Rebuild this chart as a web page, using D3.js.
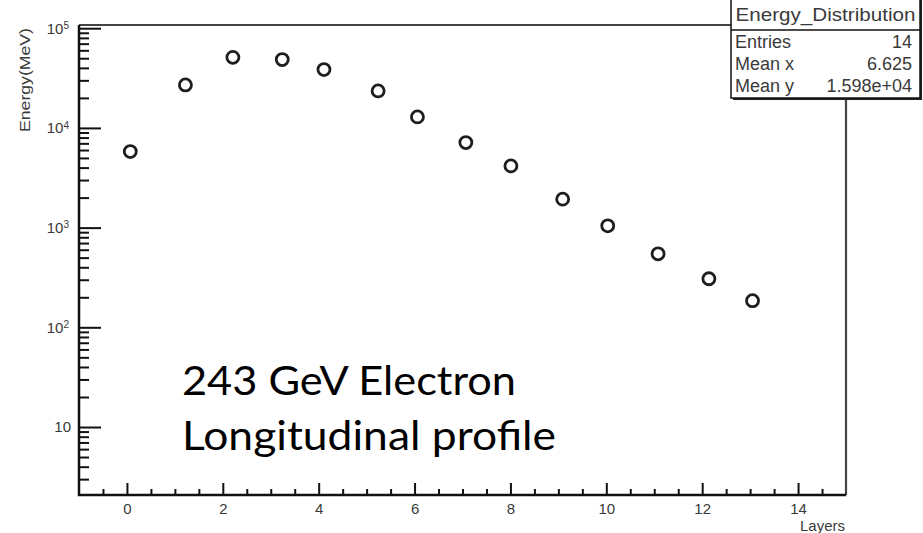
<!DOCTYPE html>
<html>
<head>
<meta charset="utf-8">
<script src="https://cdn.jsdelivr.net/npm/d3@7"></script>
<style>
  html, body { margin: 0; padding: 0; background: #fff; }
  svg { display: block; }
</style>
</head>
<body>
<div id="chartContainer"></div>
<script>
// layer position (x) and deposited energy in MeV (y)
var layers = [0.07, 1.22, 2.21, 3.24, 4.11, 5.24, 6.06, 7.07, 8.01, 9.09, 10.03, 11.08, 12.14, 13.05];
var energy = [5790, 27000, 51000, 48500, 38500, 23500, 12900, 7130, 4160, 1930, 1042, 546, 307, 185];

var xTickValues = [0, 2, 4, 6, 8, 10, 12, 14];
var yTickExponents = [1, 2, 3, 4, 5];

var statsTitle = "Energy_Distribution";
var statsLabels = ["Entries", "Mean x", "Mean y"];
var statsValues = ["14", "6.625", "1.598e+04"];

var noteLines = ["243 GeV Electron", "Longitudinal profile"];

document.addEventListener("DOMContentLoaded", function() {
  var width = 923, height = 533;
  var left = 79, right = 846, top = 25, bottom = 495;

  var svg = d3.select("#chartContainer")
    .append("svg")
    .attr("width", width)
    .attr("height", height);

  var xScale = d3.scaleLinear().domain([-1, 15]).range([left, right]);
  var yScale = d3.scaleLog().domain([2.08, 1.077e5]).range([bottom, top]);

  var labelColor = "#3a3a3a";
  var rootFont = "'Liberation Sans', Arial, sans-serif";

  // frame (top and right sides)
  svg.append("path")
    .attr("d", "M" + left + "," + top + "H" + right + "V" + bottom)
    .attr("fill", "none")
    .attr("stroke", "#444")
    .attr("stroke-width", 2.2);

  // x axis: major + minor ticks pointing up
  var xMinor = d3.range(-0.5, 15, 0.5).filter(function(v) { return v % 2 !== 0; });
  var xMinorAxis = d3.axisBottom(xScale).tickValues(xMinor).tickSize(-6).tickFormat("");
  var xAxis = d3.axisBottom(xScale).tickValues(xTickValues).tickSize(-12).tickPadding(8)
    .tickFormat(d3.format("d"));

  var gxm = svg.append("g").attr("transform", "translate(0," + bottom + ")").call(xMinorAxis);
  var gx = svg.append("g").attr("transform", "translate(0," + bottom + ")").call(xAxis);
  [gxm, gx].forEach(function(g) {
    g.select(".domain").remove();
    g.selectAll(".tick line").attr("stroke", "#111").attr("stroke-width", 2);
  });
  gx.selectAll(".tick text")
    .attr("fill", labelColor)
    .style("font-family", rootFont)
    .style("font-size", "15px");

  // y axis: log ticks pointing right
  var yMinor = [];
  for (var e = 0; e <= 4; e++) {
    for (var m = 2; m <= 9; m++) {
      var v = m * Math.pow(10, e);
      if (v > 2.08 && v < 1.077e5) yMinor.push(v);
    }
  }
  var yMinorAxis = d3.axisLeft(yScale).tickValues(yMinor).tickSize(-10).tickFormat("");
  var yAxis = d3.axisLeft(yScale)
    .tickValues(yTickExponents.map(function(p) { return Math.pow(10, p); }))
    .tickSize(-22).tickPadding(10).tickFormat("");

  var gym = svg.append("g").attr("transform", "translate(" + left + ",0)").call(yMinorAxis);
  var gy = svg.append("g").attr("transform", "translate(" + left + ",0)").call(yAxis);
  [gym, gy].forEach(function(g) {
    g.select(".domain").remove();
    g.selectAll(".tick line").attr("stroke", "#111").attr("stroke-width", 2);
  });
  gy.selectAll(".tick text").each(function(d) {
    var p = Math.round(Math.log10(d));
    var t = d3.select(this)
      .attr("fill", labelColor)
      .style("font-family", rootFont)
      .style("font-size", "15px");
    if (p === 1) {
      t.text("10").attr("x", -8);
    } else {
      t.append("tspan").text("10");
      t.append("tspan").text(p).attr("dy", "-0.45em").style("font-size", "10px");
    }
  });

  // axis lines on left and bottom
  svg.append("path")
    .attr("d", "M" + left + "," + top + "V" + bottom + "H" + right)
    .attr("fill", "none")
    .attr("stroke", "#111")
    .attr("stroke-width", 2.5);

  // axis titles
  svg.append("text")
    .attr("transform", "translate(30," + (top + 3) + ") rotate(-90)")
    .attr("text-anchor", "end")
    .attr("fill", labelColor)
    .attr("textLength", 104)
    .attr("lengthAdjust", "spacingAndGlyphs")
    .style("font-family", rootFont)
    .style("font-size", "15px")
    .text("Energy(MeV)");

  svg.append("text")
    .attr("x", 845)
    .attr("y", 531)
    .attr("text-anchor", "end")
    .attr("fill", labelColor)
    .style("font-family", rootFont)
    .style("font-size", "15px")
    .text("Layers");

  // markers
  var pts = layers.map(function(x, i) { return { x: x, y: energy[i] }; });
  svg.selectAll("circle.pt")
    .data(pts)
    .enter().append("circle")
    .attr("class", "pt")
    .attr("cx", function(d) { return xScale(d.x); })
    .attr("cy", function(d) { return yScale(d.y); })
    .attr("r", 6)
    .attr("fill", "none")
    .attr("stroke", "#1e1e1e")
    .attr("stroke-width", 2.8);

  // stats box
  var box = { x: 731, y: -4, w: 189, h: 102 };
  svg.append("rect")
    .attr("x", box.x + 2).attr("y", box.y + 2)
    .attr("width", box.w).attr("height", box.h)
    .attr("fill", "#222");
  svg.append("rect")
    .attr("x", box.x).attr("y", box.y)
    .attr("width", box.w).attr("height", box.h)
    .attr("fill", "#fff")
    .attr("stroke", "#111")
    .attr("stroke-width", 1.5);
  svg.append("line")
    .attr("x1", box.x).attr("x2", box.x + box.w)
    .attr("y1", 30).attr("y2", 30)
    .attr("stroke", "#111").attr("stroke-width", 1.5);

  svg.append("text")
    .attr("x", box.x + box.w / 2)
    .attr("y", 21)
    .attr("text-anchor", "middle")
    .attr("fill", labelColor)
    .attr("textLength", 180)
    .attr("lengthAdjust", "spacingAndGlyphs")
    .style("font-family", rootFont)
    .style("font-size", "18px")
    .text(statsTitle);

  var rowY = [48, 70, 92];
  statsLabels.forEach(function(lab, i) {
    svg.append("text")
      .attr("x", 735).attr("y", rowY[i])
      .attr("fill", labelColor)
      .style("font-family", rootFont)
      .style("font-size", "18px")
      .text(lab);
    svg.append("text")
      .attr("x", 912).attr("y", rowY[i])
      .attr("text-anchor", "end")
      .attr("fill", labelColor)
      .style("font-family", rootFont)
      .style("font-size", "18px")
      .text(statsValues[i]);
  });

  // slide annotation
  var noteY = [395, 450];
  var noteLen = [334, 374];
  noteLines.forEach(function(line, i) {
    svg.append("text")
      .attr("x", 182)
      .attr("y", noteY[i])
      .attr("fill", "#000")
      .attr("textLength", noteLen[i])
      .attr("lengthAdjust", "spacingAndGlyphs")
      .style("font-family", "Lato, 'Open Sans', sans-serif")
      .style("font-size", "40px")
      .text(line);
  });
});
</script>
</body>
</html>
